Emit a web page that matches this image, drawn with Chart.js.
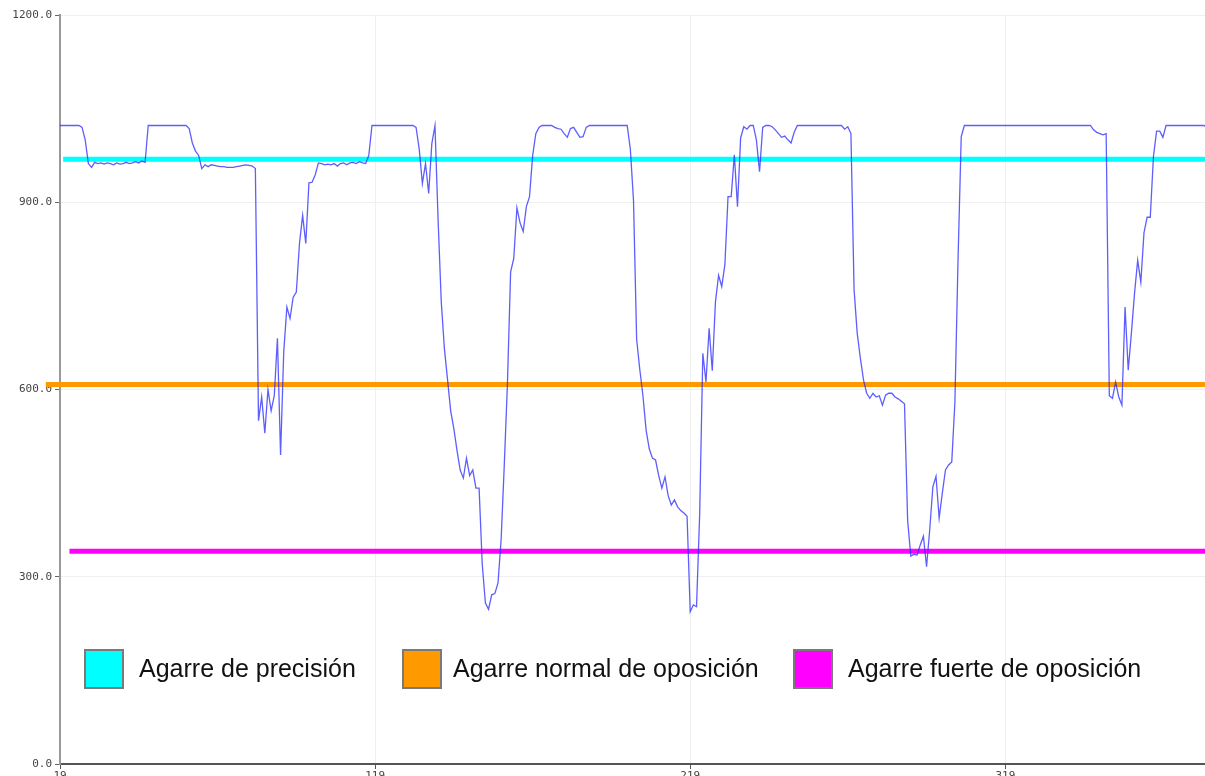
<!DOCTYPE html>
<html>
<head>
<meta charset="utf-8">
<script src="https://cdn.jsdelivr.net/npm/chart.js@4.4.0/dist/chart.umd.min.js"></script>
<style>
  html, body { margin: 0; padding: 0; background: #fff; overflow: hidden; }
  #wrap { position: relative; width: 1207px; height: 776px; }
  .legend-box { position: absolute; top: 649px; width: 40px; height: 40px; box-sizing: border-box; border: 2px solid #7a7a7a; }
  .legend-text { position: absolute; top: 648px; height: 40px; line-height: 40px; font-family: 'Liberation Sans', Arial, sans-serif; font-size: 25px; color: #111; white-space: nowrap; }
</style>
</head>
<body>
<div id="wrap">
  <canvas id="grip-chart"></canvas>
  <div id="legend"></div>
</div>
<script>
// sample numbers shown on the x axis
var firstSample = 19;
var lastSample = 383;
var xTicks = [19, 119, 219, 319];
var yTicks = [0, 300, 600, 900, 1200];

// sensor reading, one value per sample from 19 to 383
var signal = [
  1023, 1023, 1023, 1023, 1023, 1023, 1023, 1020, 1000, 962,
  956, 964, 962, 963, 961, 963, 962, 960, 963, 961,
  962, 964, 962, 963, 965, 963, 966, 964, 1023, 1023,
  1023, 1023, 1023, 1023, 1023, 1023, 1023, 1023, 1023, 1023,
  1023, 1018, 995, 982, 975, 954, 960, 957, 960, 959,
  958, 957, 957, 956, 956, 956, 957, 958, 959, 960,
  959, 958, 954, 550, 588, 530, 600, 566, 590, 682,
  495, 660, 732, 714, 748, 756, 834, 879, 834, 931,
  932, 944, 963, 962, 960, 961, 960, 962, 958, 962,
  963, 960, 963, 964, 962, 965, 963, 962, 975, 1023,
  1023, 1023, 1023, 1023, 1023, 1023, 1023, 1023, 1023, 1023,
  1023, 1023, 1023, 1020, 985, 930, 962, 914, 994, 1023,
  870, 740, 665, 615, 565, 537, 502, 471, 458, 490,
  462, 471, 442, 442, 320, 258, 248, 271, 273, 290,
  360, 480, 610, 788, 810, 891, 867, 853, 893, 909,
  975, 1010, 1020, 1023, 1023, 1023, 1023, 1020, 1018, 1017,
  1010, 1004, 1018, 1020, 1012, 1004, 1005, 1020, 1023, 1023,
  1023, 1023, 1023, 1023, 1023, 1023, 1023, 1023, 1023, 1023,
  1023, 985, 903, 680, 632, 590, 535, 505, 490, 487,
  462, 442, 460, 430, 415, 423, 412, 406, 402, 397,
  244, 255, 252, 400, 658, 612, 698, 630, 740, 783,
  765, 800, 909, 909, 976, 893, 1003, 1021, 1017, 1023,
  1023, 1000, 949, 1020, 1023, 1023, 1021, 1016, 1010, 1004,
  1006, 1000, 995, 1012, 1023, 1023, 1023, 1023, 1023, 1023,
  1023, 1023, 1023, 1023, 1023, 1023, 1023, 1023, 1023, 1017,
  1021, 1010, 760, 690, 650, 615, 594, 586, 594, 588,
  590, 575, 591, 594, 594, 588, 585, 581, 577, 390,
  333, 336, 335, 351, 365, 316, 375, 444, 461, 394,
  434, 471, 479, 484, 580, 810, 1005, 1023, 1023, 1023,
  1023, 1023, 1023, 1023, 1023, 1023, 1023, 1023, 1023, 1023,
  1023, 1023, 1023, 1023, 1023, 1023, 1023, 1023, 1023, 1023,
  1023, 1023, 1023, 1023, 1023, 1023, 1023, 1023, 1023, 1023,
  1023, 1023, 1023, 1023, 1023, 1023, 1023, 1023, 1016, 1012,
  1010, 1008, 1010, 590, 586, 612, 588, 575, 732, 631,
  690, 754, 807, 772, 851, 876, 876, 973, 1014, 1014,
  1004, 1023, 1023, 1023, 1023, 1023, 1023, 1023, 1023, 1023,
  1023, 1023, 1023, 1023, 1020
];

// grip thresholds
var gripNames = ['Agarre de precisión', 'Agarre normal de oposición', 'Agarre fuerte de oposición'];
var gripLevels = [969, 608, 341];
var gripStarts = [20, 14.5, 22];
var gripColors = ['#00ffff', '#ff9900', '#ff00ff'];

// legend placement (px)
var legendBoxLeft = [84, 402, 793];
var legendTextLeft = [139, 453, 848];

var signalPoints = signal.map(function(v, k) {
    return {x: firstSample + k, y: v};
});

var datasets = [{
    data: signalPoints,
    borderColor: 'rgba(40, 40, 255, 0.75)',
    borderWidth: 1.3,
    order: 0
}];

for (var i = 0; i < gripLevels.length; i++) {
    datasets.push({
        label: gripNames[i],
        data: [{x: gripStarts[i], y: gripLevels[i]}, {x: lastSample + 1, y: gripLevels[i]}],
        borderColor: gripColors[i],
        borderWidth: 5,
        clip: false,
        order: 1
    });
}

var tickFont = {family: 'DejaVu Sans Mono', size: 11};

new Chart(document.getElementById('grip-chart'), {
    type: 'line',
    data: {datasets: datasets},
    options: {
        animation: false,
        responsive: true,
        maintainAspectRatio: false,
        devicePixelRatio: 1,
        layout: {padding: {top: 15, left: 0, right: 0, bottom: 0}},
        elements: {point: {radius: 0}, line: {tension: 0}},
        plugins: {legend: {display: false}, tooltip: {enabled: false}},
        scales: {
            x: {
                type: 'linear',
                min: firstSample,
                max: lastSample,
                afterBuildTicks: function(axis) {
                    axis.ticks = xTicks.map(function(v) { return {value: v}; });
                },
                afterFit: function(scale) { scale.height = 12; },
                ticks: {font: tickFont, color: '#444', padding: 1, maxRotation: 0,
                    callback: function(v) { return String(v); }},
                grid: {color: '#f0f0f0', tickColor: '#555', tickLength: 5},
                border: {color: '#555', width: 2}
            },
            y: {
                min: 0,
                max: 1200,
                afterBuildTicks: function(axis) {
                    axis.ticks = yTicks.map(function(v) { return {value: v}; });
                },
                afterFit: function(scale) { scale.width = 60; },
                ticks: {font: tickFont, color: '#444', padding: 3,
                    callback: function(v) { return v.toFixed(1); }},
                grid: {color: '#f0f0f0', tickColor: '#666', tickLength: 5},
                border: {color: '#999', width: 2}
            }
        }
    }
});

// legend sits inside the plot, under the curves
var legendHTML = '';
for (var j = 0; j < gripNames.length; j++) {
    legendHTML += '<div class="legend-box" style="left:' + legendBoxLeft[j] + 'px;background:' + gripColors[j] + '"></div>'
                + '<div class="legend-text" style="left:' + legendTextLeft[j] + 'px">' + gripNames[j] + '</div>';
}
document.getElementById('legend').innerHTML = legendHTML;
</script>
</body>
</html>
